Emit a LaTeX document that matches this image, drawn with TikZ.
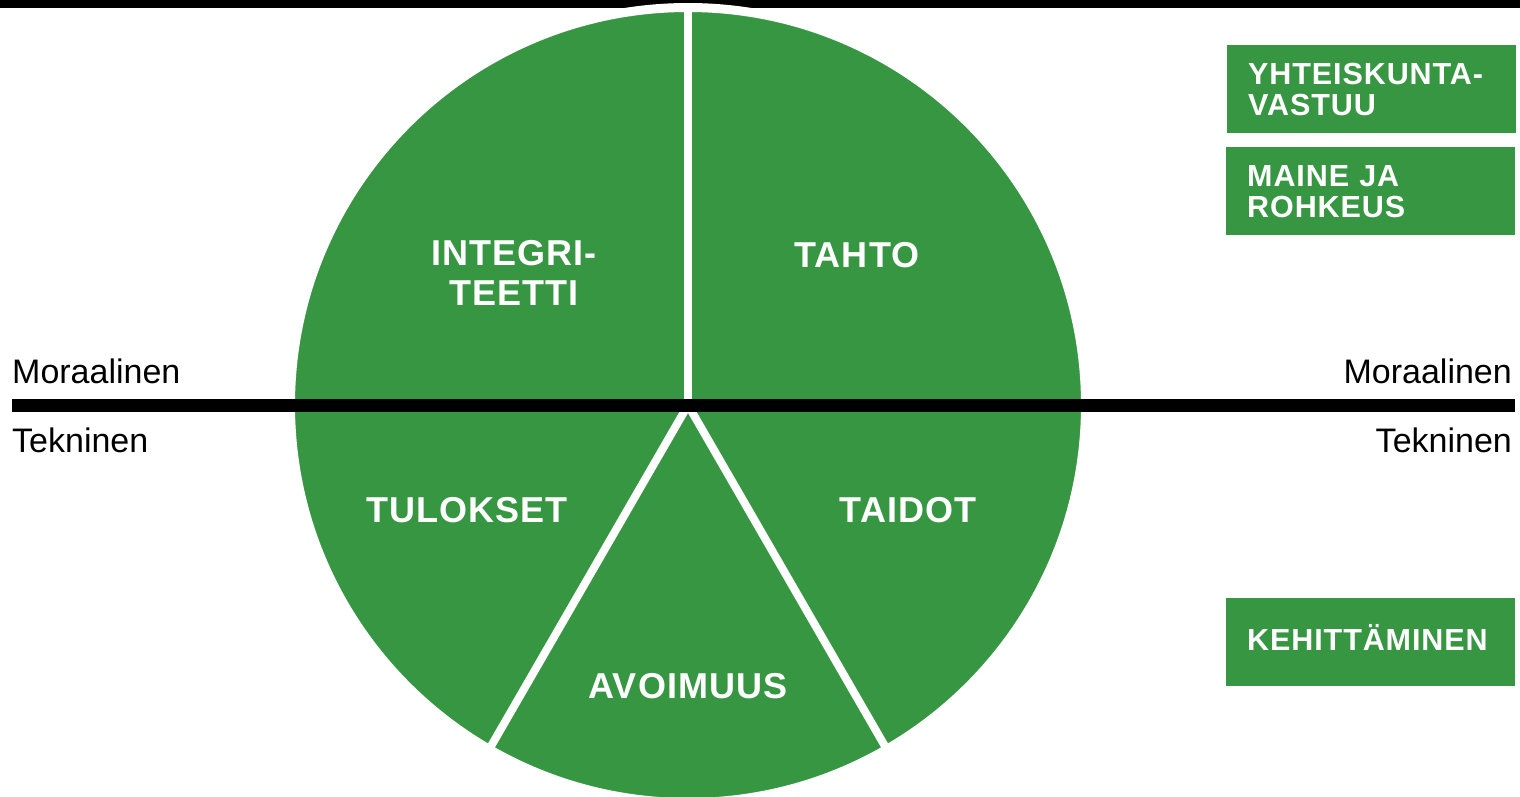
\documentclass[tikz,border=0pt]{standalone}
\usepackage{fontspec}
\setmainfont{Liberation Sans}
\newfontfamily\spacedfont{Liberation Sans Bold}[LetterSpace=3]
\definecolor{leafgreen}{RGB}{55,150,66}
\begin{document}
\begin{tikzpicture}[x=1pt, y=-1pt,
    seglabel/.style={text=white, align=center, inner sep=0pt,
        font=\spacedfont\fontsize{36}{40}\selectfont},
    sidelabel/.style={inner sep=0pt, font=\fontsize{34}{40}\selectfont},
    greenbox/.style={fill=leafgreen, text=white, anchor=north west,
        minimum height=88pt, text width=247pt, inner xsep=21pt, align=left,
        font=\spacedfont\fontsize{30.5}{31}\selectfont}]
    \useasboundingbox (0,0) rectangle (1520,797);
    % Musta palkki ylhaalla
    \fill[black] (0,0) rectangle (1520,8);
    
    % Ympyra ja valkoiset jakoviivat
    \coordinate (O) at (688,405);
    \fill[leafgreen, draw=white, line width=9pt] (O) circle (397.5);
    \draw[white, line width=8pt] (O) -- ++(0,-400);
    \draw[white, line width=8pt] (O) -- ++(240:-410);
    \draw[white, line width=8pt] (O) -- ++(300:-410);
    
    % Vaakaviiva ja tekstit sen ympari
    \coordinate (axisL) at (12,405.5);
    \coordinate (axisR) at (1515,405.5);
    \draw[black, line width=13pt] (axisL) -- (axisR);
    \node[sidelabel, anchor=base west] (moraalL) at (12,383) {Moraalinen};
    \node[sidelabel, anchor=base west] (teknL) at (12,452) {Tekninen};
    \node[sidelabel, anchor=base east] (moraalR) at (1512,383) {Moraalinen};
    \node[sidelabel, anchor=base east] (teknR) at (1512,452) {Tekninen};
    
    % Sektorien nimet
    \node[seglabel] (integriteetti) at (514,273) {INTEGRI-\\TEETTI};
    \node[seglabel] (tahto) at (857,255) {TAHTO};
    \node[seglabel] (tulokset) at (467,510) {TULOKSET};
    \node[seglabel] (taidot) at (908,510) {TAIDOT};
    \node[seglabel] (avoimuus) at (688,686) {AVOIMUUS};
    
    % Laatikot oikealla
    \node[greenbox] (vastuu) at (1227,45) {YHTEISKUNTA-\\VASTUU};
    \node[greenbox] (maine) at (1226,147) {MAINE JA\\ROHKEUS};
    \node[greenbox, text depth=10pt] (kehitys) at (1226,598) {KEHITTÄMINEN};
\end{tikzpicture}
\end{document}
